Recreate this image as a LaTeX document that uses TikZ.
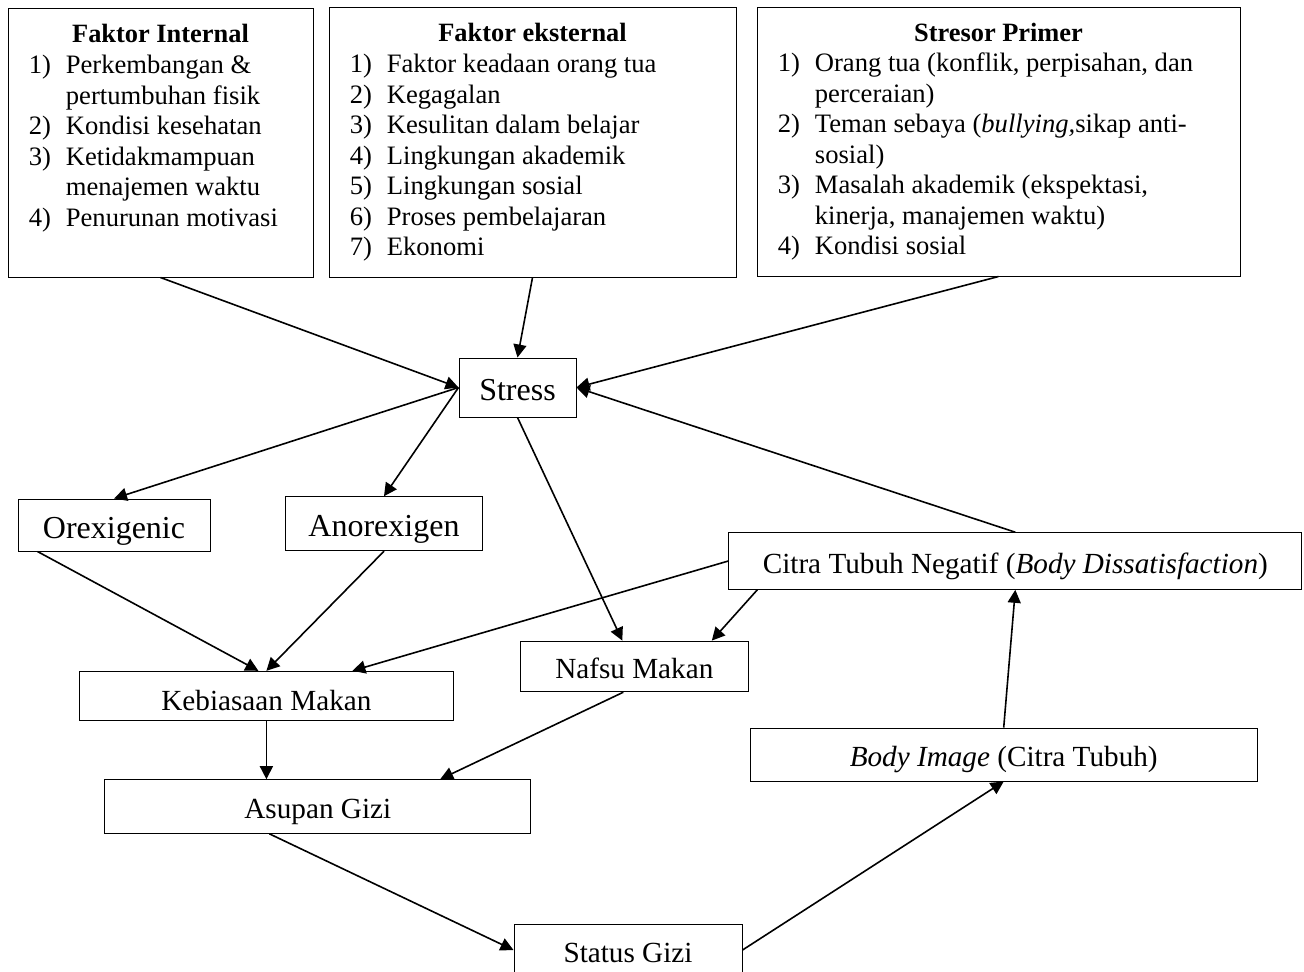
\documentclass[tikz,border=0pt]{standalone}
\usepackage{fontspec}
\setmainfont{Liberation Serif}
\usetikzlibrary{arrows.meta,calc}

\tikzset{
  rectbox/.style={draw, line width=0.5pt, inner sep=0pt, text height=12.4pt, text depth=0pt,
    font=\fontsize{14.6}{15.25}\selectfont},
  bigbox/.style={rectbox, text height=13pt, font=\fontsize{16}{18}\selectfont},
  titletext/.style={inner sep=0pt, anchor=base, font=\fontsize{13.2}{15.25}\selectfont\bfseries},
  listtext/.style={inner sep=0pt, anchor=base west, font=\fontsize{13.3}{15.25}\selectfont},
}
\newcommand{\nomor}[1]{\makebox[18.5pt][l]{#1}}

\begin{document}
\begin{tikzpicture}[x=0.5pt, y=-0.5pt, >={Triangle[length=6.5pt,width=6.5pt]}]
          \useasboundingbox (0,0) rectangle (1304,971);

          % faktor-faktor di atas
          \node[rectbox, minimum width=152.5pt, minimum height=134.5pt] (intbox) at (160.5,142.5) {};
          \node[rectbox, minimum width=203.5pt, minimum height=135pt] (extbox) at (532.5,142) {};
          \node[rectbox, minimum width=241.5pt, minimum height=134.5pt] (strbox) at (998.5,141.5) {};

          \node[titletext] (inttitle) at ($(intbox.north)+(0,35)$) {Faktor Internal};
          \node[listtext] (intlist) at ($(intbox.north west)+(21,66)$) {%
            \begin{tabular}[t]{@{}l@{}}
              \nomor{1)}Perkembangan \&\\
              \nomor{}pertumbuhan fisik\\
              \nomor{2)}Kondisi kesehatan\\
              \nomor{3)}Ketidakmampuan\\
              \nomor{}menajemen waktu\\
              \nomor{4)}Penurunan motivasi
            \end{tabular}};

          \node[titletext] (exttitle) at ($(extbox.north)+(0,35)$) {Faktor eksternal};
          \node[listtext] (extlist) at ($(extbox.north west)+(21,66)$) {%
            \begin{tabular}[t]{@{}l@{}}
              \nomor{1)}Faktor keadaan orang tua\\
              \nomor{2)}Kegagalan\\
              \nomor{3)}Kesulitan dalam belajar\\
              \nomor{4)}Lingkungan akademik\\
              \nomor{5)}Lingkungan sosial\\
              \nomor{6)}Proses pembelajaran\\
              \nomor{7)}Ekonomi
            \end{tabular}};

          \node[titletext] (strtitle) at ($(strbox.north)+(0,35)$) {Stresor Primer};
          \node[listtext] (strlist) at ($(strbox.north west)+(21,65)$) {%
            \begin{tabular}[t]{@{}l@{}}
              \nomor{1)}Orang tua (konflik, perpisahan, dan\\
              \nomor{}perceraian)\\
              \nomor{2)}Teman sebaya (\textit{bullying,}sikap anti-\\
              \nomor{}sosial)\\
              \nomor{3)}Masalah akademik (ekspektasi,\\
              \nomor{}kinerja, manajemen waktu)\\
              \nomor{4)}Kondisi sosial
            \end{tabular}};

          % kotak tengah
          \node[bigbox, minimum width=58.5pt, minimum height=29.5pt] (stress) at (517.5,387.5) {Stress};
          \node[bigbox, minimum width=96pt, minimum height=26pt] (orex) at (114,525) {Orexigenic};
          \node[bigbox, minimum width=98.5pt, minimum height=27pt] (anorex) at (384,523.7) {Anorexigen};
          \node[rectbox, minimum width=286.5pt, minimum height=28.3pt] (citra) at (1015.3,561)
            {Citra Tubuh Negatif (\textit{Body Dissatisfaction})};
          \node[rectbox, minimum width=114pt, minimum height=25.3pt] (nafsu) at (634.3,666.4) {Nafsu Makan};
          \node[rectbox, minimum width=187.2pt, minimum height=24.7pt, text height=14pt] (keb) at (266.4,696) {Kebiasaan Makan};
          \node[rectbox, minimum width=212.9pt, minimum height=26.8pt] (asupan) at (317.8,806.5) {Asupan Gizi};
          \node[rectbox, minimum width=253.3pt, minimum height=26.5pt] (bodyimg) at (1003.7,754.5)
            {\textit{Body Image} (Citra Tubuh)};
          \node[rectbox, minimum width=114pt, minimum height=26pt] (status) at (628,950) {Status Gizi};

          % ujung panah yang digeser
          \coordinate (orexout) at ($(orex.south west)+(20,0)$);
          \coordinate (kebin1) at ($(keb.north)+(-8,0)$);
          \coordinate (kebin3) at ($(keb.north)+(86,0)$);
          \coordinate (citraout) at ($(citra.south west)+(29,0)$);
          \coordinate (nafsuin1) at ($(nafsu.north)+(-12,0)$);
          \coordinate (nafsuin2) at ($(nafsu.north east)+(-37,0)$);
          \coordinate (nafsuout) at ($(nafsu.south)+(-11,0)$);
          \coordinate (asupanin1) at (keb.south |- asupan.north);
          \coordinate (asupanin2) at ($(asupan.north east)+(-91,0)$);
          \coordinate (asupanout) at ($(asupan.south west)+(165,0)$);

          \foreach \a/\b in {intbox.south/stress.west, extbox.south/stress.north,
                             strbox.south/stress.east, citra.north/stress.east,
                             stress.west/orex.north, stress.west/anorex.north,
                             stress.south/nafsuin1, orexout/kebin1, anorex.south/keb.north,
                             citra.west/kebin3, citraout/nafsuin2, keb.south/asupanin1,
                             nafsuout/asupanin2, asupanout/status.west,
                             status.east/bodyimg.south, bodyimg.north/citra.south} {
            \draw[->, thick] (\a) -- (\b);
          }
        \end{tikzpicture}
\end{document}
